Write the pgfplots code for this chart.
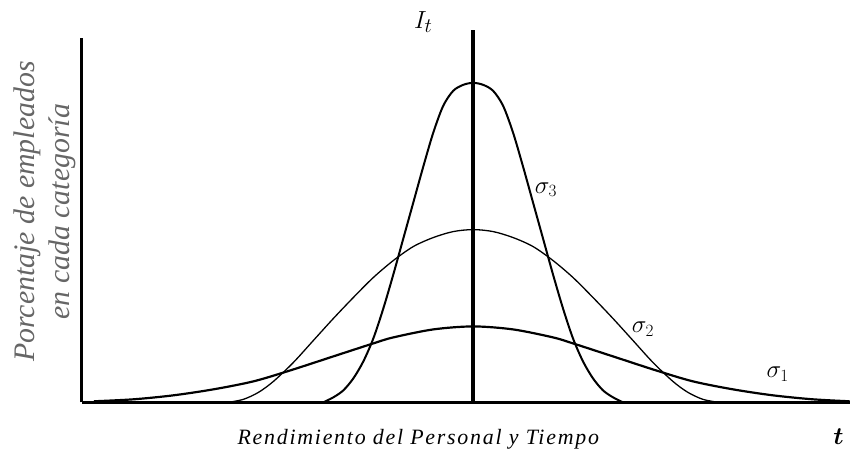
\documentclass[border=0pt]{standalone}
\usepackage{amsmath}
\usepackage{fontspec}
\setmainfont{Liberation Serif}
\usepackage{pgfplots}
\pgfplotsset{compat=1.18}

\begin{document}
\begin{tikzpicture}
\begin{axis}[
    x=1bp, y=1bp,
    xmin=-392, xmax=377,
    ymin=0, ymax=365,
    axis x line=bottom, axis y line=left,
    axis line style={line width=3bp, -},
    ticks=none,
    clip=false,
]
% bounding box of the whole picture
\path (axis cs:-474,-59) rectangle (axis cs:377,403);

% sigma 1 (wide)
\addplot[black, line width=2.2bp, smooth] coordinates {
    (-380,1) (-340,3) (-300,7) (-260,13) (-220,21) (-183,32) (-140,46) (-100,59)
    (-80,65) (-40,73) (0,76) (40,73) (80,65) (100,59) (140,46) (183,32)
    (220,21) (260,13) (300,7) (340,3) (377,1)
};
% sigma 2 (medium)
\addplot[black, line width=1.3bp, smooth] coordinates {
    (-245,0) (-230,3) (-215,10) (-200,21) (-180,40) (-160,62) (-140,84) (-120,105)
    (-100,125) (-80,142) (-60,156) (-40,165) (-20,171) (0,173) (20,171) (40,165)
    (60,156) (80,142) (100,125) (120,105) (140,84) (160,62) (180,40) (200,21)
    (215,10) (230,3) (245,0)
};
% sigma 3 (narrow)
\addplot[black, line width=2bp, smooth] coordinates {
    (-150,0) (-140,5) (-130,12) (-120,24) (-110,41) (-100,64) (-90,94) (-80,128)
    (-70,164) (-60,200) (-50,236) (-40,270) (-30,297) (-20,312) (-10,318) (0,320)
    (10,318) (20,312) (30,297) (40,270) (50,236) (60,200) (70,164) (80,128)
    (90,94) (100,64) (110,41) (120,24) (130,12) (140,5) (150,0)
};
% central line
\addplot[black, line width=3.5bp] coordinates {(0,0) (0,373)};

\node[font=\fontsize{28}{28}\selectfont] at (axis cs:-50,381) {$I_t$};
\node[font=\fontsize{24}{24}\selectfont] at (axis cs:73,213) {$\sigma_3$};
\node[font=\fontsize{24}{24}\selectfont] at (axis cs:170,73) {$\sigma_2$};
\node[font=\fontsize{24}{24}\selectfont] at (axis cs:305,28) {$\sigma_1$};
\node[font=\fontsize{34}{34}\selectfont] at (axis cs:366,-34) {$\boldsymbol{t}$};
\node[font=\fontsize{22}{22}\selectfont\itshape\addfontfeature{LetterSpace=8}] at (axis cs:-55,-37)
    {Rendimiento del Personal y Tiempo};
\node[rotate=90, align=center, text=black!60,
      font=\fontsize{30}{35}\selectfont\itshape] at (axis cs:-429,191)
    {Porcentaje de empleados\\en cada categoría};
\end{axis}
\end{tikzpicture}
\end{document}
